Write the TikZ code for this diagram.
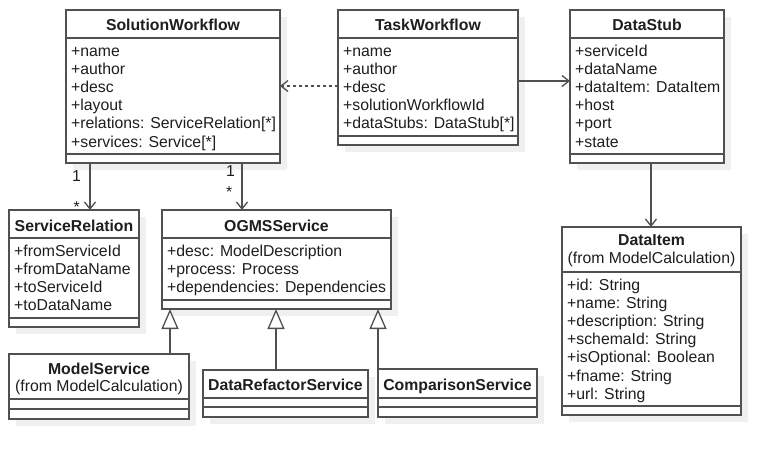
\documentclass[tikz,border=0pt]{standalone}
\usepackage{fontspec}
\setmainfont{Liberation Sans}
\usetikzlibrary{arrows.meta}
\definecolor{linec}{HTML}{505050}
\definecolor{textc}{HTML}{1E1E1E}
\definecolor{shadowc}{HTML}{F0F0F0}
\tikzset{
  classbox/.style={draw=linec, line width=1.3pt, fill=white, inner sep=0pt, outer sep=0pt},
  uline/.style={draw=linec, line width=1.3pt},
  attr/.style={font=\fontsize{15.8}{18.2}\selectfont, text=textc, inner sep=0pt, anchor=base west},
  hdr/.style={font=\fontsize{15.8}{18.2}\selectfont\bfseries, text=textc, inner sep=0pt, anchor=base},
  sub/.style={font=\fontsize{15.8}{18.2}\selectfont, text=textc, inner sep=0pt, anchor=base},
  mult/.style={font=\fontsize{15.8}{18.2}\selectfont, text=textc, inner sep=0pt, anchor=base},
  conn/.style={draw=linec, line width=1.3pt},
  assoc/.style={conn, -{Straight Barb[length=7pt,width=11pt]}},
  dep/.style={assoc, dash pattern=on 3pt off 3pt},
  inh/.style={conn, -{Triangle[length=20pt,width=17pt,fill=white]}}
}
% #1 name, #2 left, #3 top, #4 right, #5 bottom, #6 header line y, #7 divider y
\newcommand\umlbox[7]{%
  \fill[shadowc] (#2+7,#3+7) rectangle (#4+7,#5+7);
  \node[classbox, minimum width=#4-#2, minimum height=#5-#3, anchor=north west] (#1) at (#2,#3) {};
  \draw[uline] (#2,#6) -- (#4,#6);
  \draw[uline] (#2,#7) -- (#4,#7);
}
% #1 prefix, #2 x, #3 first baseline, #4 list
\newcommand\umlattrs[4]{%
  \foreach \t [count=\i from 0] in {#4}
    \node[attr] (#1a\i) at (#2, #3+\i*18.2) {\t};
}
\begin{document}
\begin{tikzpicture}[x=1pt,y=-1pt]
\useasboundingbox (0,0) rectangle (780,459);
\fill[white] (0,0) rectangle (780,459);

% classes
\umlbox{sw}{66}{10}{280}{163}{38}{154}
\node[hdr] (swh) at (173,30.5) {SolutionWorkflow};
\umlattrs{sw}{71}{56}{+name,+author,+desc,+layout,+relations: ServiceRelation[*],+services: Service[*]}

\umlbox{tw}{338}{10}{518}{145}{38}{136}
\node[hdr] (twh) at (428,30.5) {TaskWorkflow};
\umlattrs{tw}{343}{56}{+name,+author,+desc,+solutionWorkflowId,+dataStubs: DataStub[*]}

\umlbox{ds}{570}{10}{724}{163}{38}{154}
\node[hdr] (dsh) at (647,30.5) {DataStub};
\umlattrs{ds}{575}{56}{+serviceId,+dataName,+dataItem: DataItem,+host,+port,+state}

\umlbox{sr}{9}{210}{139}{327}{238}{318}
\node[hdr] (srh) at (74,231) {ServiceRelation};
\umlattrs{sr}{14}{256}{+fromServiceId,+fromDataName,+toServiceId,+toDataName}

\umlbox{og}{162}{210}{391}{309}{238}{300}
\node[hdr] (ogh) at (276.5,231) {OGMSService};
\umlattrs{og}{167}{256}{+desc: ModelDescription,+process: Process,+dependencies: Dependencies}

\umlbox{di}{562}{227}{741}{415}{272}{406}
\node[hdr] (dih) at (651.5,245.5) {DataItem};
\node[sub] (dis) at (651.5,263.5) {(from ModelCalculation)};
\umlattrs{di}{567}{290}{+id: String,+name: String,+description: String,+schemaId: String,+isOptional: Boolean,+fname: String,+url: String}

\umlbox{ms}{9}{354}{189}{419}{399}{409}
\node[hdr] (msh) at (99,374) {ModelService};
\node[sub] (mss) at (99,391.5) {(from ModelCalculation)};

\umlbox{dr}{203}{370}{368}{417}{398}{407}
\node[hdr] (drh) at (285.5,390) {DataRefactorService};

\umlbox{cs}{378}{369}{537}{417}{398}{407}
\node[hdr] (csh) at (457.5,390) {ComparisonService};

% helper coordinates
\coordinate (x90) at (90,0);
\coordinate (x242) at (242,0);
\coordinate (x651) at (651,0);
\coordinate (x170) at (170,0);
\coordinate (x276) at (276,0);
\coordinate (y86) at (0,86);
\coordinate (y81) at (0,81);

% connectors
\draw[assoc] (sw.south -| x90) -- (sr.north -| x90);
\draw[assoc] (sw.south -| x242) -- (og.north -| x242);
\draw[dep] (tw.west |- y86) -- (sw.east |- y86);
\draw[assoc] (tw.east |- y81) -- (ds.west |- y81);
\draw[assoc] (ds.south -| x651) -- (di.north -| x651);
\draw[inh] (ms.north -| x170) -- (og.south -| x170);
\draw[inh] (dr.north -| x276) -- (og.south -| x276);
\draw[inh] (cs.north west) -- (og.south -| cs.north west);

% multiplicities
\node[mult] (m1a) at (76.6,181.7) {1};
\node[mult] (m1b) at (76.7,212) {*};
\node[mult] (m2a) at (230.6,176) {1};
\node[mult] (m2b) at (229.3,197) {*};
\end{tikzpicture}
\end{document}
